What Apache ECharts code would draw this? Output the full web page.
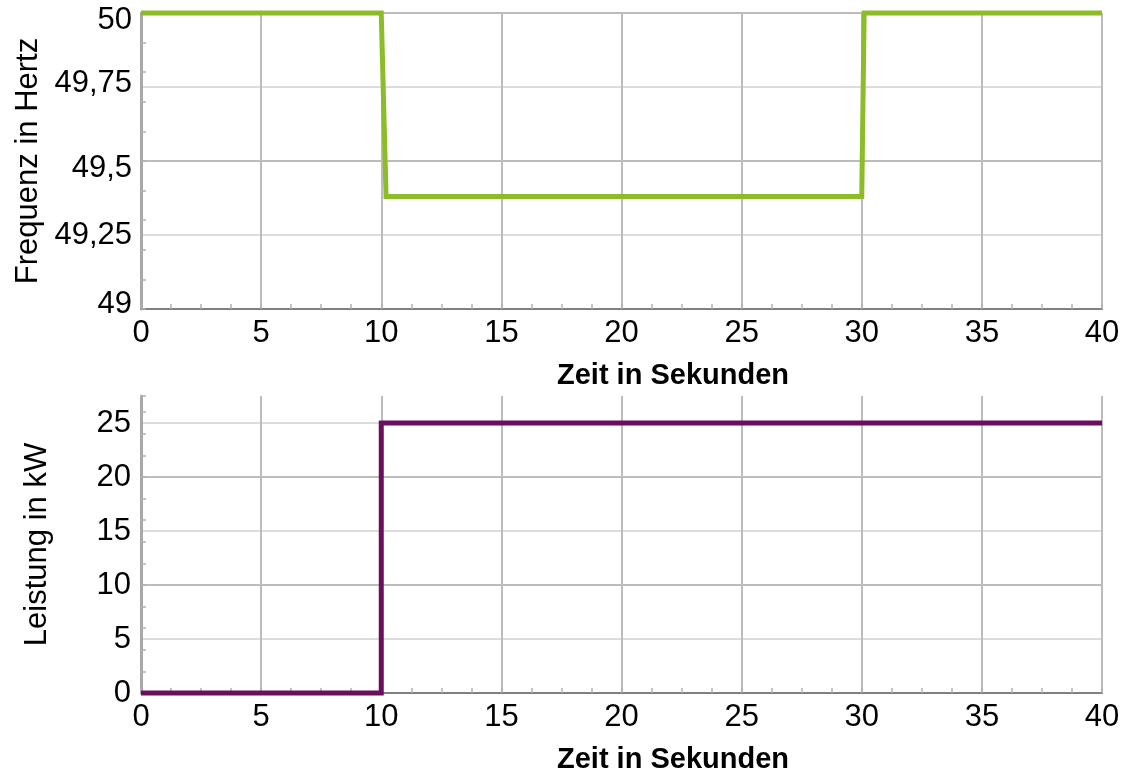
<!DOCTYPE html>
<html>
<head>
<meta charset="utf-8">
<script src="https://cdn.jsdelivr.net/npm/echarts@6/dist/echarts.min.js"></script>
<style>
  html, body { margin: 0; padding: 0; background: #fff; }
  #chart { width: 1137px; height: 776px; }
</style>
</head>
<body>
<div id="chart"></div>
<script>
// Grid frequency step (top) and the power response (bottom)
const freqTime = [0, 10, 10.2, 30, 30.1, 40];      // s
const freqValue = [50, 50, 49.38, 49.38, 50, 50];   // Hz
const powerTime = [0, 10, 10, 40];                  // s
const powerValue = [0, 0, 25, 25];                  // kW

const xTicks = [0, 5, 10, 15, 20, 25, 30, 35, 40];
const freqTicks = [49, 49.25, 49.5, 49.75, 50];
const powerTicks = [0, 5, 10, 15, 20, 25];

const xTitle = 'Zeit in Sekunden';
const freqTitle = 'Frequenz in Hertz';
const powerTitle = 'Leistung in kW';

const FONT = '"Liberation Sans", Arial, sans-serif';
const pair = (xs, ys) => xs.map((x, i) => [x, ys[i]]);
const deComma = v => String(v).replace('.', ',');

// small vertical nudges for the frequency labels
const freqLabelStyle = {
  lo: { fontFamily: FONT, fontSize: 31, color: '#000', padding: [0, 0, 10, 0] },
  mid: { fontFamily: FONT, fontSize: 31, color: '#000' },
  hi: { fontFamily: FONT, fontSize: 31, color: '#000', padding: [15, 0, 0, 0] },
  up: { fontFamily: FONT, fontSize: 31, color: '#000', padding: [0, 0, 7, 0] }
};
const freqLabelKey = { 49: 'lo', 49.25: 'mid', 49.5: 'hi', 49.75: 'up', 50: 'hi' };

function xAxisFor(gridIndex) {
  return {
    type: 'value', gridIndex,
    min: xTicks[0], max: xTicks[xTicks.length - 1], interval: xTicks[1] - xTicks[0],
    name: xTitle, nameLocation: 'middle', nameGap: 52,
    nameTextStyle: { fontFamily: FONT, fontSize: 29, fontWeight: 'bold', color: '#000', padding: [0, 0, 0, 103] },
    axisLine: { show: true, onZero: false, lineStyle: { color: '#808080', width: 2 } },
    axisTick: { show: true, inside: true, length: 5, lineStyle: { color: '#b0b0b0', width: 1.5 } },
    minorTick: { show: true, splitNumber: 4, length: 5, lineStyle: { color: '#b0b0b0', width: 1.5 } },
    axisLabel: { fontFamily: FONT, fontSize: 31, color: '#000', margin: 9 },
    splitLine: { show: true, lineStyle: { color: '#bcbcbc', width: 2 } }
  };
}

const option = {
  backgroundColor: '#fff',
  animation: false,
  grid: [
    { left: 141, right: 35, top: 13, height: 296 },
    { left: 141, right: 35, top: 396, height: 297 }
  ],
  xAxis: [xAxisFor(0), xAxisFor(1)],
  yAxis: [
    {
      type: 'value', gridIndex: 0, position: 'left',
      min: freqTicks[0], max: freqTicks[freqTicks.length - 1], interval: 0.25,
      name: freqTitle, nameLocation: 'middle', nameGap: 82,
      nameTextStyle: { fontFamily: FONT, fontSize: 31, color: '#000' },
      axisLine: { show: true, onZero: false, lineStyle: { color: '#a8a8a8', width: 3 } },
      axisTick: { show: false },
      axisLabel: {
        margin: 9,
        formatter: v => '{' + (freqLabelKey[v] || 'mid') + '|' + deComma(v) + '}',
        rich: freqLabelStyle
      },
      splitLine: { show: true, lineStyle: { color: ['#bcbcbc', '#dcdcdc'], width: 2 } }
    },
    {
      // fine tick marks every 0.1 Hz
      type: 'value', gridIndex: 0, position: 'left',
      min: 49, max: 50, interval: 0.1,
      axisLine: { show: false, onZero: false },
      axisTick: { show: true, inside: true, length: 5, lineStyle: { color: '#b0b0b0', width: 1.5 } },
      axisLabel: { show: false },
      splitLine: { show: false }
    },
    {
      type: 'value', gridIndex: 1, position: 'left',
      min: powerTicks[0], max: 27.5, interval: 5,
      name: powerTitle, nameLocation: 'middle', nameGap: 88,
      nameTextStyle: { fontFamily: FONT, fontSize: 31, color: '#000' },
      axisLine: { show: true, onZero: false, lineStyle: { color: '#a8a8a8', width: 3 } },
      axisTick: { show: false },
      axisLabel: { fontFamily: FONT, fontSize: 31, color: '#000', margin: 10, showMaxLabel: false },
      splitLine: { show: true, showMaxLine: false, lineStyle: { color: ['#bcbcbc', '#dcdcdc'], width: 2 } }
    },
    {
      // fine tick marks every 2 kW
      type: 'value', gridIndex: 1, position: 'left',
      min: 0, max: 27.5, interval: 2,
      axisLine: { show: false, onZero: false },
      axisTick: { show: true, inside: true, length: 5, lineStyle: { color: '#b0b0b0', width: 1.5 } },
      axisLabel: { show: false },
      splitLine: { show: false }
    }
  ],
  series: [
    {
      type: 'line', xAxisIndex: 0, yAxisIndex: 0,
      data: pair(freqTime, freqValue),
      showSymbol: false, clip: false,
      lineStyle: { color: '#8cbd28', width: 5, join: 'miter' }
    },
    {
      type: 'line', xAxisIndex: 1, yAxisIndex: 2,
      data: pair(powerTime, powerValue),
      showSymbol: false, clip: false,
      lineStyle: { color: '#6c0e5e', width: 5, join: 'miter' }
    }
  ]
};

echarts.init(document.getElementById('chart'), null, { renderer: 'canvas' }).setOption(option);
</script>
</body>
</html>
